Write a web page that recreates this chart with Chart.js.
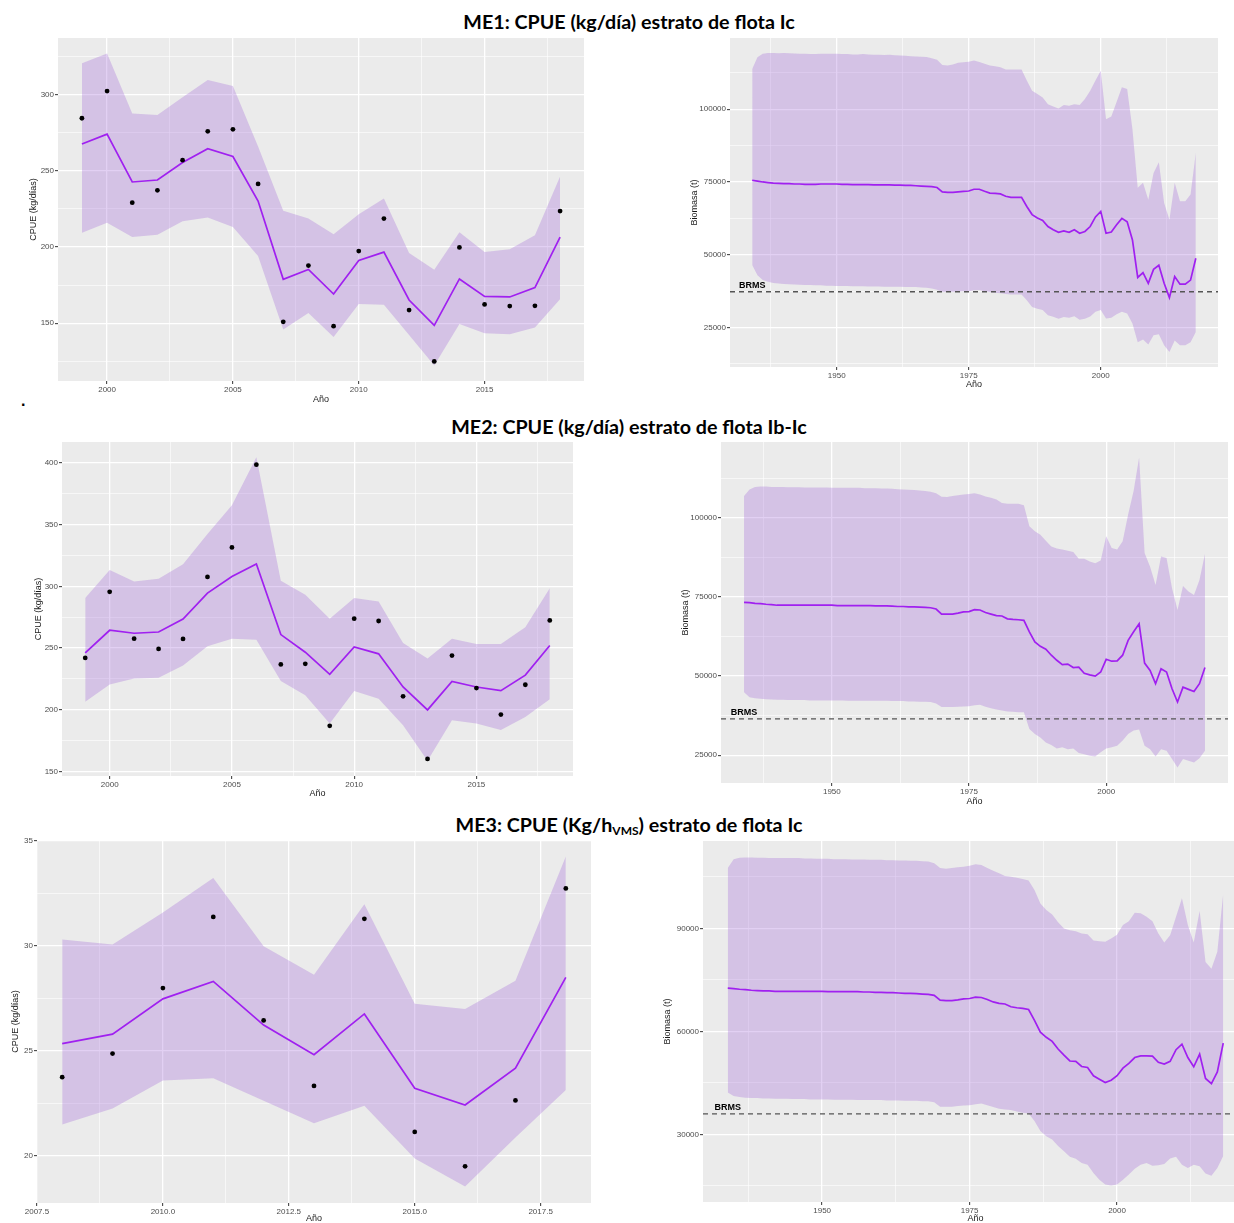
<!DOCTYPE html>
<html lang="es">
<head>
<meta charset="utf-8">
<title>CPUE y biomasa por estrato de flota</title>
<script src="https://cdn.jsdelivr.net/npm/chart.js@4.4.1/dist/chart.umd.min.js"></script>
<style>
  html, body { margin: 0; padding: 0; background: #ffffff; width: 1234px; height: 1223px; overflow: hidden; }
  body { position: relative; }
  canvas { position: absolute; }
  .head {
    position: absolute; left: 629px; transform: translate(-50%, -50%);
    font-family: Lato, "Liberation Sans", sans-serif; font-weight: bold; font-size: 19.7px;
    color: #000; white-space: nowrap; line-height: 1;
  }
  .head sub { font-size: 12px; vertical-align: -3px; line-height: 0; }
  .dot { position: absolute; left: 21px; top: 392px; font: bold 16px "Liberation Sans", sans-serif; color: #000; }
</style>
</head>
<body>
<div class="head" style="top:22px">ME1: CPUE (kg/día) estrato de flota Ic</div>
<div class="head" style="top:427px">ME2: CPUE (kg/día) estrato de flota Ib-Ic</div>
<div class="head" style="top:825px">ME3: CPUE (Kg/h<sub>VMS</sub>) estrato de flota Ic</div>
<div class="dot">.</div>

<canvas id="me1cpue"></canvas>
<canvas id="me1bio"></canvas>
<canvas id="me2cpue"></canvas>
<canvas id="me2bio"></canvas>
<canvas id="me3cpue"></canvas>
<canvas id="me3bio"></canvas>

<script>
// ---------------- CPUE series ----------------
const cpueYears = [1999, 2000, 2001, 2002, 2003, 2004, 2005, 2006, 2007, 2008,
                   2009, 2010, 2011, 2012, 2013, 2014, 2015, 2016, 2017, 2018];

const me1Obs   = [284.4, 302.2, 229.0, 237.1, 256.9, 275.8, 277.1, 241.3, 150.9, 187.8,
                  148.0, 197.3, 218.6, 158.6, 124.9, 199.7, 162.3, 161.2, 161.4, 223.5];
const me1Fit   = [267.5, 274.0, 242.6, 243.9, 255.4, 264.4, 259.3, 230.1, 178.8, 185.2,
                  169.1, 191.1, 196.6, 165.2, 148.5, 179.0, 167.6, 167.2, 173.3, 206.5];
const me1Upper = [320.5, 326.8, 287.5, 286.6, 298.2, 309.5, 305.5, 265.9, 223.7, 218.6,
                  208.3, 221.5, 231.8, 196.0, 185.0, 209.6, 196.6, 198.4, 207.6, 246.1];
const me1Lower = [209.2, 215.8, 206.5, 208.0, 216.9, 219.3, 213.1, 194.0, 145.8, 156.6,
                  141.0, 162.5, 162.1, 142.3, 122.3, 149.4, 143.4, 142.8, 147.2, 165.8];

const me2Obs   = [242.0, 295.6, 257.6, 249.3, 257.4, 307.7, 331.6, 398.7, 236.7, 237.2,
                  186.9, 273.8, 271.9, 210.8, 160.0, 243.9, 217.5, 196.0, 220.2, 272.4];
const me2Fit   = [246.1, 264.4, 262.0, 263.0, 273.5, 294.5, 308.0, 318.2, 260.9, 246.6,
                  228.6, 250.9, 245.3, 218.4, 199.8, 222.9, 218.4, 215.4, 228.0, 252.0];
const me2Upper = [290.5, 313.3, 303.9, 306.1, 317.9, 342.4, 365.8, 404.8, 304.5, 293.2,
                  273.8, 290.5, 287.8, 254.1, 241.5, 257.6, 253.3, 253.3, 266.8, 298.5];
const me2Lower = [206.5, 220.5, 225.3, 225.9, 235.8, 251.5, 257.6, 256.8, 223.2, 211.6,
                  188.8, 215.1, 208.9, 187.4, 158.5, 191.4, 188.8, 183.4, 194.1, 208.4];

const me3Years = [2008, 2009, 2010, 2011, 2012, 2013, 2014, 2015, 2016, 2017, 2018];
const me3Obs   = [23.75, 24.87, 27.99, 31.38, 26.45, 23.33, 31.29, 21.14, 19.50, 22.64, 32.74];
const me3Fit   = [25.35, 25.80, 27.48, 28.31, 26.23, 24.82, 26.76, 23.22, 22.42, 24.18, 28.50];
const me3Upper = [30.31, 30.07, 31.59, 33.24, 29.99, 28.63, 31.99, 27.24, 27.00, 28.34, 34.26];
const me3Lower = [21.49, 22.26, 23.59, 23.70, 22.63, 21.55, 22.39, 19.87, 18.54, 20.87, 23.14];

// ---------------- Biomass series (1934-2018) ----------------
const bioYears = Array.from({ length: 85 }, (_, i) => 1934 + i);

const bio1Fit = [
  75600, 75300, 75000, 74800, 74600, 74500, 74400, 74400, 74300, 74300,
  74200, 74200, 74200, 74300, 74300, 74300, 74300, 74200, 74200, 74100,
  74100, 74100, 74100, 74000, 74000, 74000, 74000, 73900, 73900, 73800,
  73800, 73700, 73600, 73500, 73400, 73100, 71600, 71400, 71400, 71600,
  71800, 71900, 72500, 72500, 71800, 71200, 71100, 70900, 70100, 69700,
  69700, 69700, 66600, 63800, 62600, 61800, 59700, 58600, 57700, 58200,
  57700, 58600, 57400, 58000, 59700, 63000, 64900, 57400, 57800, 60300,
  62500, 61300, 55100, 42200, 43900, 40200, 45000, 46400, 40200, 35300,
  42500, 39900, 39900, 41300, 48800];
const bio1Upper = [
  113800, 117800, 119000, 119300, 119300, 119200, 119300, 119200, 119100, 119000,
  119000, 118900, 118900, 119000, 119000, 119000, 119000, 118900, 118900, 118800,
  118800, 118900, 118800, 118700, 118700, 118600, 118700, 118500, 118400, 118300,
  118200, 118100, 118000, 117900, 117500, 117000, 115200, 115000, 115300, 115900,
  116100, 116300, 116700, 116200, 115600, 115000, 114700, 114400, 113600, 113600,
  113600, 113600, 109800, 106300, 105200, 104000, 101700, 100900, 100200, 101400,
  101200, 101700, 101400, 103500, 106300, 109800, 113200, 96500, 97500, 102500,
  107500, 106900, 93100, 73000, 74700, 68900, 78100, 81800, 67800, 62000,
  74700, 68400, 68400, 70700, 85000];
const bio1Lower = [
  46500, 43000, 41300, 40700, 40300, 40100, 40000, 39900, 39800, 39700,
  39600, 39600, 39500, 39500, 39400, 39400, 39300, 39300, 39300, 39200,
  39200, 39200, 39100, 39100, 39100, 39000, 39000, 39000, 39000, 38900,
  38900, 38900, 38800, 38700, 38400, 38000, 37300, 37200, 37300, 37400,
  37500, 37500, 37800, 37900, 37500, 37200, 37000, 36800, 36500, 36400,
  36400, 36400, 34400, 32100, 31500, 31000, 29200, 28700, 28000, 28600,
  28400, 28900, 27700, 28000, 28800, 30400, 31000, 28100, 28400, 29600,
  30400, 29800, 26400, 20000, 20900, 19200, 22400, 22700, 18900, 16600,
  20600, 18900, 18900, 20000, 23500];
const bio1Brms = 37300;

const bio2Fit = [
  73300, 73200, 73000, 72900, 72700, 72600, 72400, 72400, 72400, 72400,
  72400, 72400, 72400, 72400, 72400, 72400, 72400, 72300, 72300, 72300,
  72300, 72300, 72300, 72300, 72200, 72200, 72200, 72100, 72000, 72000,
  71900, 71900, 71800, 71700, 71600, 71200, 69600, 69600, 69600, 69900,
  70300, 70400, 71000, 70900, 70100, 69600, 69100, 69000, 68100, 67900,
  67800, 67600, 64000, 60800, 59400, 58500, 56600, 55000, 53600, 53800,
  52700, 52800, 50900, 50400, 50000, 51300, 55300, 54700, 54800, 56600,
  61300, 64000, 66500, 54100, 51800, 47600, 52300, 51300, 46000, 41800,
  46500, 45800, 45100, 47600, 52700];
const bio2Upper = [
  106900, 109000, 109800, 109900, 109900, 109800, 109800, 109800, 109700, 109700,
  109700, 109600, 109600, 109600, 109600, 109600, 109500, 109500, 109500, 109500,
  109500, 109500, 109400, 109400, 109400, 109300, 109300, 109200, 109100, 109000,
  108900, 108800, 108700, 108500, 108300, 107800, 106700, 106600, 106900, 107200,
  107400, 107600, 107800, 107400, 106800, 106400, 105800, 104700, 104500, 104500,
  104500, 104000, 97400, 95800, 94700, 92800, 91000, 90300, 90000, 89600,
  89200, 87100, 87100, 86200, 85700, 86500, 94200, 90500, 90000, 92600,
  101100, 108500, 119100, 88900, 84600, 78800, 87800, 87300, 77800, 70900,
  78500, 76700, 75600, 80400, 88600];
const bio2Lower = [
  44900, 43300, 43000, 42800, 42700, 42600, 42500, 42500, 42400, 42400,
  42400, 42400, 42300, 42300, 42300, 42300, 42300, 42300, 42300, 42200,
  42200, 42200, 42200, 42200, 42200, 42200, 42200, 42100, 42100, 42100,
  42000, 42000, 41900, 41900, 41800, 41300, 40200, 40200, 40200, 40300,
  40400, 40500, 40800, 40900, 40300, 39800, 39400, 39100, 38800, 38700,
  38600, 38600, 33300, 31700, 30600, 29000, 28200, 27100, 27500, 26900,
  27100, 25700, 25300, 24800, 24600, 25900, 27100, 27500, 28000, 29600,
  31700, 32800, 33100, 28000, 26900, 24600, 26900, 26400, 23800, 21100,
  23800, 23200, 22700, 24000, 26400];
const bio2Brms = 36500;

const bio3Fit = [
  72600, 72500, 72300, 72200, 72000, 71900, 71800, 71800, 71700, 71700,
  71700, 71700, 71700, 71700, 71700, 71700, 71700, 71600, 71600, 71600,
  71600, 71600, 71600, 71500, 71500, 71400, 71400, 71300, 71300, 71200,
  71100, 71100, 71000, 70900, 70800, 70500, 69100, 69000, 69000, 69200,
  69500, 69600, 70000, 69900, 69300, 68600, 68200, 68000, 67200, 66900,
  66700, 66400, 63200, 59800, 58300, 57100, 54900, 53100, 51400, 51300,
  49800, 49500, 47100, 46100, 45100, 45800, 47100, 49300, 50700, 52400,
  52900, 52900, 52800, 51000, 50500, 51300, 54700, 56300, 52400, 49700,
  53400, 46300, 44800, 48200, 56600];
const bio3Upper = [
  107600, 110200, 110600, 110700, 110700, 110600, 110600, 110500, 110500, 110500,
  110500, 110500, 110500, 110400, 110400, 110300, 110300, 110300, 110200, 110200,
  110200, 110100, 110100, 110100, 110000, 110000, 110000, 109900, 109900, 109800,
  109800, 109700, 109700, 109600, 109500, 109000, 107600, 107400, 107600, 107800,
  108000, 108300, 108700, 108500, 107600, 106800, 106100, 105300, 105100, 104800,
  104400, 104000, 101200, 97300, 95400, 94100, 91800, 90000, 89500, 89200,
  88500, 88300, 86500, 86300, 86100, 87100, 88200, 91000, 92100, 94600,
  94400, 93400, 92100, 88500, 85900, 88000, 93400, 98800, 91000, 85900,
  95100, 80200, 78300, 83200, 100200];
const bio3Lower = [
  42200, 41200, 40900, 40700, 40600, 40600, 40500, 40500, 40400, 40400,
  40400, 40300, 40300, 40300, 40200, 40200, 40200, 40200, 40100, 40100,
  40100, 40100, 40000, 40000, 40000, 40000, 40000, 39900, 39900, 39900,
  39800, 39800, 39800, 39700, 39700, 39400, 38100, 38100, 38100, 38300,
  38400, 38500, 38800, 39000, 38500, 38000, 37500, 37300, 37100, 36700,
  36300, 36100, 33900, 31000, 29500, 28500, 26600, 25100, 23500, 22900,
  21700, 21200, 18800, 16800, 15400, 15100, 15400, 16800, 18300, 20000,
  21200, 21700, 20900, 21000, 21400, 23000, 23500, 21200, 20200, 21200,
  20700, 18600, 18000, 20200, 23700];
const bio3Brms = 36000;

// ---------------- Tick labels ----------------
const cpueYearTicks = [2000, 2005, 2010, 2015];
const me1CpueTicks  = [150, 200, 250, 300];
const me2CpueTicks  = [150, 200, 250, 300, 350, 400];
const me3YearTicks  = [2007.5, 2010, 2012.5, 2015, 2017.5];
const me3CpueTicks  = [20, 25, 30, 35];
const bioYearTicks  = [1950, 1975, 2000];
const bio12Ticks    = [25000, 50000, 75000, 100000];
const bio3Ticks     = [30000, 60000, 90000];

// ---------------- Styling ----------------
const FONT = '"Liberation Sans", Arial, sans-serif';
const PANEL_BG = '#EBEBEB';
const BAND = 'rgba(160, 100, 215, 0.30)';
const FIT = '#A020F0';

// grey panel behind the plotting region
const panelBackground = {
  id: 'panelBackground',
  beforeDraw(chart) {
    const { ctx, chartArea: a } = chart;
    ctx.save();
    ctx.fillStyle = PANEL_BG;
    ctx.fillRect(a.left, a.top, a.right - a.left, a.bottom - a.top);
    ctx.restore();
  }
};

// "BRMS" text above the reference line, centred on the first model year
const brmsLabel = {
  id: 'brmsLabel',
  afterDatasetsDraw(chart, args, opts) {
    if (opts.value == null) return;
    const { ctx, scales } = chart;
    const x = scales.x.getPixelForValue(opts.year);
    const y = scales.y.getPixelForValue(opts.value);
    ctx.save();
    ctx.font = 'bold 9px ' + FONT;
    ctx.fillStyle = '#000';
    ctx.textAlign = 'center';
    ctx.textBaseline = 'bottom';
    ctx.fillText('BRMS', x, y - 2);
    ctx.restore();
  }
};

function minorOf(major) {
  const step = major[1] - major[0];
  return [major[0] - step / 2, ...major.map(v => v + step / 2)];
}

function expandRange(values, frac) {
  const lo = Math.min(...values), hi = Math.max(...values);
  const pad = (hi - lo) * frac;
  return [lo - pad, hi + pad];
}

function axis(major, fmt, range, title, size) {
  const majorSet = new Set(major);
  const all = [...minorOf(major), ...major].sort((a, b) => a - b);
  return {
    type: 'linear',
    min: range[0],
    max: range[1],
    afterBuildTicks(scale) {
      scale.ticks = all.filter(v => v >= scale.min && v <= scale.max).map(v => ({ value: v }));
    },
    afterFit(scale) {
      if (scale.isHorizontal()) scale.height = size; else scale.width = size;
    },
    ticks: {
      autoSkip: false, maxRotation: 0, minRotation: 0, padding: 1,
      color: '#4D4D4D', font: { family: FONT, size: 8 },
      callback: (v) => majorSet.has(v) ? fmt(v) : ''
    },
    grid: {
      color: '#FFFFFF',
      lineWidth: (c) => (c.tick && majorSet.has(c.tick.value)) ? 1.3 : 0.6,
      tickColor: (c) => (c.tick && majorSet.has(c.tick.value)) ? '#333333' : 'rgba(0,0,0,0)',
      tickWidth: 1,
      tickLength: 3,
      drawTicks: true
    },
    border: { display: false },
    title: {
      display: true, text: title, color: '#1A1A1A', padding: 0,
      font: { family: FONT, size: 9, lineHeight: 1 }
    }
  };
}

function pts(xs, ys) { return xs.map((x, i) => ({ x, y: ys[i] })); }

function buildPanel(p) {
  const g = p.geo;
  const padTop = 8, padRight = 4, half = 4.5;
  const areaL = Math.round(g.l), areaR = Math.round(g.r);
  const areaT = Math.round(g.t), areaB = Math.round(g.b);
  const cl = Math.round(g.yTitleX - half);
  const ct = areaT - padTop;
  const yw = areaL - cl;
  const xh = Math.round(g.xTitleY + half - areaB);
  const cw = areaR - cl + padRight;
  const ch = areaB + xh - ct;

  const canvas = document.getElementById(p.id);
  canvas.width = cw; canvas.height = ch;
  canvas.style.left = cl + 'px'; canvas.style.top = ct + 'px';
  canvas.style.width = cw + 'px'; canvas.style.height = ch + 'px';

  const xRange = expandRange(p.x, 0.05);
  const yRange = expandRange([...p.upper, ...p.lower, ...(p.obs || [])], 0.05);

  const datasets = [];
  if (p.obs) {
    datasets.push({
      type: 'scatter', data: pts(p.x, p.obs), showLine: false,
      pointRadius: 2.4, pointBackgroundColor: '#000', pointBorderWidth: 0, borderColor: '#000'
    });
  }
  datasets.push({
    data: pts(p.x, p.fit), borderColor: FIT, borderWidth: 1.7,
    pointRadius: 0, fill: false, tension: 0
  });
  if (p.brms != null) {
    datasets.push({
      data: [{ x: xRange[0], y: p.brms }, { x: xRange[1], y: p.brms }],
      borderColor: '#555555', borderWidth: 1.3, borderDash: [5, 4],
      pointRadius: 0, fill: false
    });
  }
  datasets.push({
    data: pts(p.x, p.upper), borderWidth: 0, borderColor: 'rgba(0,0,0,0)',
    pointRadius: 0, fill: '+1', backgroundColor: BAND, tension: 0
  });
  datasets.push({
    data: pts(p.x, p.lower), borderWidth: 0, borderColor: 'rgba(0,0,0,0)',
    pointRadius: 0, fill: false, tension: 0
  });

  new Chart(canvas, {
    type: 'line',
    data: { datasets },
    options: {
      responsive: false,
      animation: false,
      devicePixelRatio: 1,
      layout: { autoPadding: false, padding: { top: padTop, right: padRight, left: 0, bottom: 0 } },
      plugins: {
        legend: { display: false },
        tooltip: { enabled: false },
        brmsLabel: { value: p.brms, year: p.x[0] }
      },
      scales: {
        x: axis(p.xTicks, p.xFmt, xRange, 'Año', xh),
        y: axis(p.yTicks, p.yFmt, yRange, p.yTitle, yw)
      }
    },
    plugins: [panelBackground, brmsLabel]
  });
}

const intFmt = v => String(v);
const oneDec = v => v.toFixed(1);

buildPanel({
  id: 'me1cpue', x: cpueYears, obs: me1Obs, fit: me1Fit, upper: me1Upper, lower: me1Lower,
  xTicks: cpueYearTicks, yTicks: me1CpueTicks, xFmt: intFmt, yFmt: intFmt, yTitle: 'CPUE (kg/días)',
  geo: { l: 58, t: 38, r: 584, b: 381, yTitleX: 33, xTitleY: 399 }
});
buildPanel({
  id: 'me1bio', x: bioYears, fit: bio1Fit, upper: bio1Upper, lower: bio1Lower, brms: bio1Brms,
  xTicks: bioYearTicks, yTicks: bio12Ticks, xFmt: intFmt, yFmt: intFmt, yTitle: 'Biomasa (t)',
  geo: { l: 730, t: 38, r: 1218, b: 367, yTitleX: 694, xTitleY: 384 }
});
buildPanel({
  id: 'me2cpue', x: cpueYears, obs: me2Obs, fit: me2Fit, upper: me2Upper, lower: me2Lower,
  xTicks: cpueYearTicks, yTicks: me2CpueTicks, xFmt: intFmt, yFmt: intFmt, yTitle: 'CPUE (kg/días)',
  geo: { l: 62, t: 442, r: 573, b: 776, yTitleX: 38, xTitleY: 793 }
});
buildPanel({
  id: 'me2bio', x: bioYears, fit: bio2Fit, upper: bio2Upper, lower: bio2Lower, brms: bio2Brms,
  xTicks: bioYearTicks, yTicks: bio12Ticks, xFmt: intFmt, yFmt: intFmt, yTitle: 'Biomasa (t)',
  geo: { l: 721, t: 442, r: 1228, b: 783, yTitleX: 685, xTitleY: 801 }
});
buildPanel({
  id: 'me3cpue', x: me3Years, obs: me3Obs, fit: me3Fit, upper: me3Upper, lower: me3Lower,
  xTicks: me3YearTicks, yTicks: me3CpueTicks, xFmt: oneDec, yFmt: intFmt, yTitle: 'CPUE (kg/días)',
  geo: { l: 37, t: 840, r: 591, b: 1203, yTitleX: 15, xTitleY: 1218 }
});
buildPanel({
  id: 'me3bio', x: bioYears, fit: bio3Fit, upper: bio3Upper, lower: bio3Lower, brms: bio3Brms,
  xTicks: bioYearTicks, yTicks: bio3Ticks, xFmt: intFmt, yFmt: intFmt, yTitle: 'Biomasa (t)',
  geo: { l: 703, t: 841, r: 1248, b: 1202, yTitleX: 667, xTitleY: 1218 }
});
</script>
</body>
</html>
